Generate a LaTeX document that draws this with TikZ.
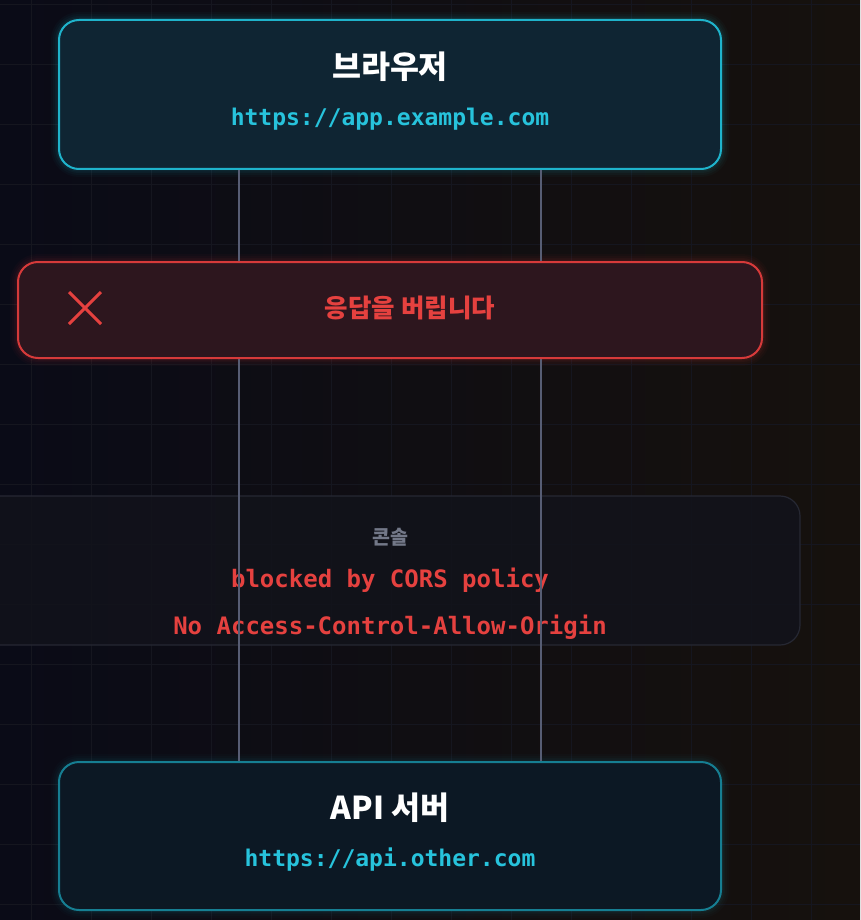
\documentclass[tikz,border=0pt]{standalone}
\usepackage{fontspec}
\newfontfamily\kr{Noto Sans CJK KR}
\newfontfamily\mono{DejaVu Sans Mono}
\usetikzlibrary{calc}
\definecolor{bgL}{HTML}{0A0B17}
\definecolor{bgR}{HTML}{16110D}
\definecolor{gridc}{HTML}{15161F}
\definecolor{cyanS}{HTML}{1FB3CB}
\definecolor{cyanF}{HTML}{0F2533}
\definecolor{cyanT}{HTML}{27C3DC}
\definecolor{tealS}{HTML}{167E92}
\definecolor{tealF}{HTML}{0C1824}
\definecolor{redS}{HTML}{D63A3A}
\definecolor{redF}{HTML}{2D161E}
\definecolor{redT}{HTML}{E5413F}
\definecolor{conS}{HTML}{262833}
\definecolor{conF}{HTML}{12131B}
\definecolor{grayT}{HTML}{737888}
\definecolor{lineC}{HTML}{575D74}
\tikzset{
  box/.style={rounded corners=20pt, line width=2pt, inner sep=0pt},
  titletxt/.style={font=\kr\bfseries\fontsize{31.5}{33}\selectfont, text=white},
  urltxt/.style={font=\mono\bfseries\fontsize{23}{25}\selectfont, text=cyanT},
  contxt/.style={font=\mono\bfseries\fontsize{24}{26}\selectfont, text=redT},
  lifeline/.style={draw=lineC, line width=1.8pt},
}
\begin{document}
\begin{tikzpicture}[x=1pt,y=-1pt]
\useasboundingbox (0,0) rectangle (860,920);
% background
\shade[left color=bgL, right color=bgR] (0,0) rectangle (860,920);
\foreach \gx in {31,91,...,871} \draw[gridc, line width=0.8pt] (\gx,0) -- (\gx,920);
\foreach \gy in {4,64,...,920} \draw[gridc, line width=0.8pt] (0,\gy) -- (860,\gy);

% console box
\node[box, draw=conS, fill=conF, fill opacity=0.85, minimum width=820pt, minimum height=149pt, line width=1.2pt] (console) at (390,570.5) {};
\node[font=\kr\bfseries\fontsize{19.5}{21}\selectfont, text=grayT] (contitle) at (390,537) {콘솔};
\node[contxt] (blocked) at (390,580) {blocked by CORS policy};
\node[contxt] (noacao) at (390,627) {No Access-Control-Allow-Origin};

% glows
\foreach \w/\o in {16/0.03,12/0.04,8/0.05,5/0.06}{
  \draw[cyanS, line width=\w pt, opacity=\o, rounded corners=20pt] (59,20) rectangle (721,169);
  \draw[tealS, line width=\w pt, opacity=\o, rounded corners=20pt] (59,762) rectangle (721,910);
  \draw[redS, line width=\w pt, opacity=\o, rounded corners=20pt] (18,262) rectangle (762,358);
}

% main boxes
\node[box, draw=cyanS, fill=cyanF, minimum width=662pt, minimum height=149pt] (browser) at (390,94.5) {};
\node[box, draw=tealS, fill=tealF, minimum width=662pt, minimum height=148pt] (server) at (390,836) {};

% lifelines
\draw[lifeline] ($(browser.south)+(-151,0)$) -- ($(server.north)+(-151,0)$);
\draw[lifeline] ($(browser.south)+(151,0)$) -- ($(server.north)+(151,0)$);

% red box over lines
\node[box, draw=redS, fill=redF, minimum width=744pt, minimum height=96pt] (drop) at (390,310) {};
\node[font=\kr\bfseries\fontsize{25.5}{27}\selectfont, text=redT] (droptxt) at (410,308) {응답을 버립니다};
\coordinate (xc) at (85,308);
\draw[redT, line width=3pt] ($(xc)+(-16,-16)$) -- ($(xc)+(16,16)$);
\draw[redT, line width=3pt] ($(xc)+(-16,16)$) -- ($(xc)+(16,-16)$);

% texts
\node[titletxt] (browsertitle) at (390,67) {브라우저};
\node[urltxt] (browserurl) at (390,119) {https://app.example.com};
\node[titletxt] (servertitle) at (390,808) {API 서버};
\node[urltxt] (serverurl) at (390,860) {https://api.other.com};
\end{tikzpicture}
\end{document}
